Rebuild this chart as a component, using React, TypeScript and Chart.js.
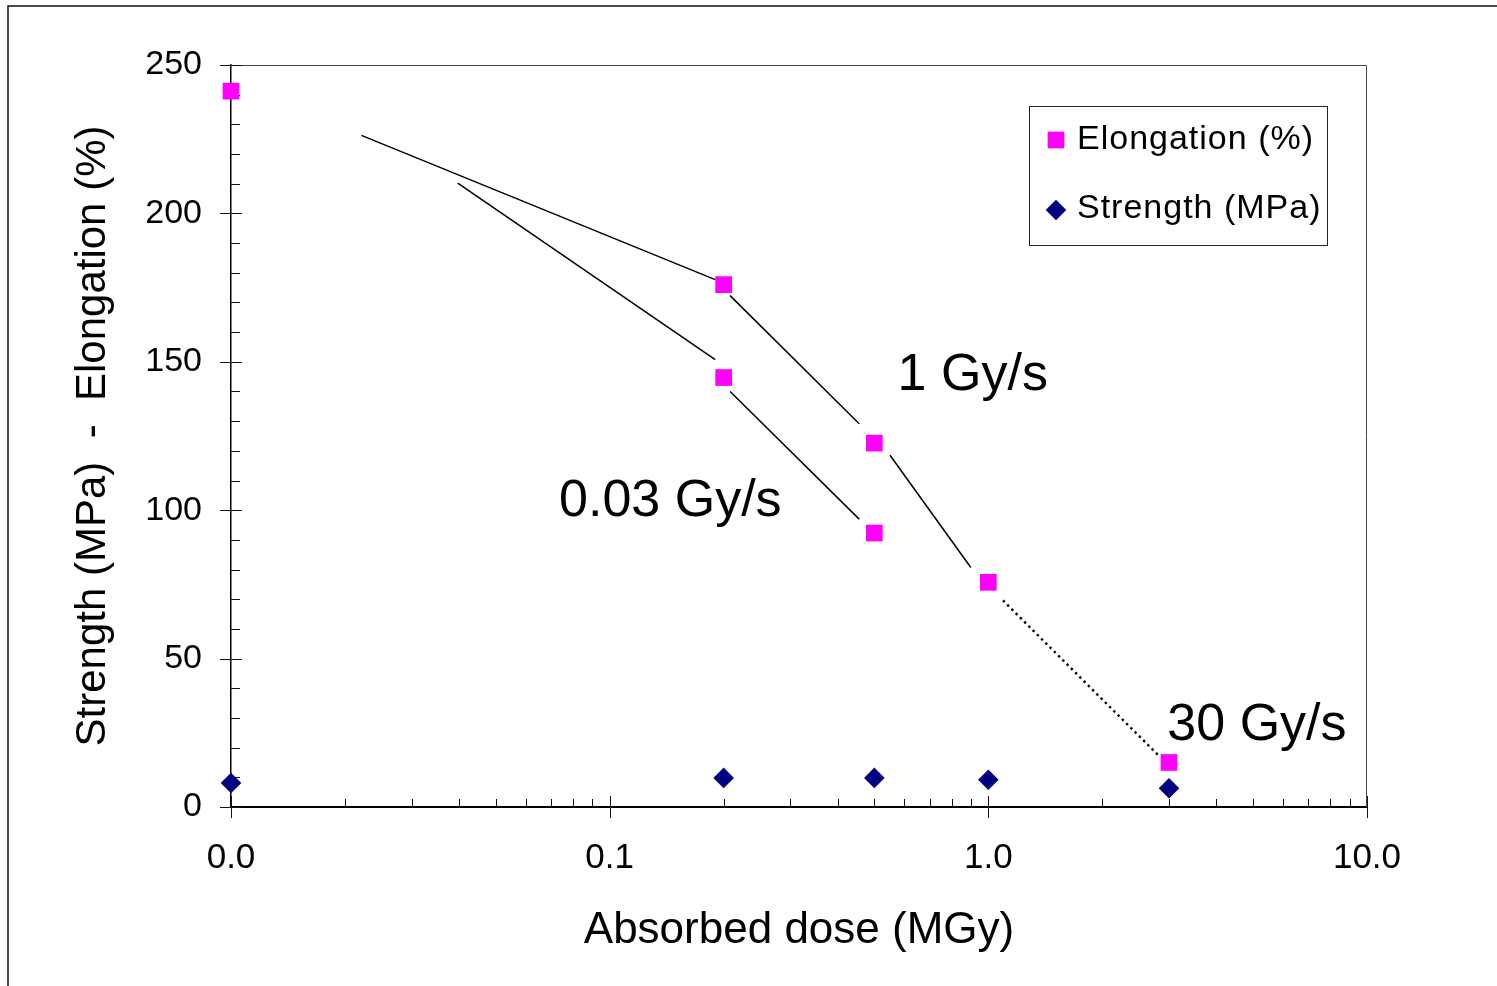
import React, { useEffect, useRef } from "react";
import { Chart, registerables } from "chart.js";

Chart.register(...registerables);

const FONT = "'Liberation Sans', Arial, Helvetica, sans-serif";

// ---- axis ticks ----
const X_TICKS = [0.01, 0.1, 1, 10];
const X_TICK_LABELS = ["0.0", "0.1", "1.0", "10.0"];
const Y_TICKS = [0, 50, 100, 150, 200, 250];
const Y_TICK_LABELS = ["0", "50", "100", "150", "200", "250"];

// ---- measured series ----
const ELONG_DOSE = [0.01, 0.2, 0.2, 0.5, 0.5, 1, 3];
const ELONG_VALUE = [241.2, 176.0, 144.7, 122.6, 92.3, 75.7, 15.0];
const STRENGTH_DOSE = [0.01, 0.2, 0.5, 1, 3];
const STRENGTH_VALUE = [8.1, 9.8, 9.8, 9.2, 6.3];

// ---- hand-drawn trend segments (dose, value) ----
const SEG_1GY_A_DOSE = [0.0221, 0.19];
const SEG_1GY_A_VALUE = [226.3, 177.7];
const SEG_1GY_B_DOSE = [0.208, 0.456];
const SEG_1GY_B_VALUE = [172.3, 129.1];
const SEG_1GY_C_DOSE = [0.55, 0.899];
const SEG_1GY_C_VALUE = [118.5, 80.7];
const SEG_30GY_DOSE = [1.093, 2.844];
const SEG_30GY_VALUE = [69.6, 16.8];
const SEG_003_A_DOSE = [0.0397, 0.19];
const SEG_003_A_VALUE = [210.2, 150.7];
const SEG_003_B_DOSE = [0.208, 0.456];
const SEG_003_B_VALUE = [140.0, 97.0];

// ---- dose-rate labels ----
const RATE_LABELS = ["1 Gy/s", "0.03 Gy/s", "30 Gy/s"];
const RATE_LABEL_DOSE = [0.576, 0.0735, 2.97];
const RATE_LABEL_VALUE = [140.6, 97.9, 22.7];

const pts = (xs: number[], ys: number[]) => xs.map((x, i) => ({ x, y: ys[i] }));

const segment = (xs: number[], ys: number[], dashed = false) => ({
  data: pts(xs, ys),
  showLine: true,
  borderColor: "#000",
  backgroundColor: "#000",
  borderWidth: dashed ? 2.4 : 1.5,
  borderDash: dashed ? [2.4, 3.6] : [],
  pointRadius: 0,
  pointHoverRadius: 0,
  clip: false as const,
  order: 5,
});

const extras = {
  id: "extras",
  beforeDraw(chart: any) {
    const { ctx } = chart;
    ctx.save();
    ctx.fillStyle = "#fff";
    ctx.fillRect(0, 0, chart.width, chart.height);
    // outer frame
    ctx.strokeStyle = "#111";
    ctx.lineWidth = 1.5;
    ctx.beginPath();
    ctx.moveTo(8, chart.height + 2);
    ctx.lineTo(8, 6);
    ctx.lineTo(chart.width + 2, 6);
    ctx.stroke();
    ctx.restore();
  },
  beforeDatasetsDraw(chart: any) {
    const { ctx, chartArea: a, scales } = chart;
    const xs = scales.x;
    const ys = scales.y;
    ctx.save();
    // plot frame top / right
    ctx.strokeStyle = "#444";
    ctx.lineWidth = 1;
    ctx.beginPath();
    ctx.moveTo(a.left, Math.round(a.top) + 0.5);
    ctx.lineTo(Math.round(a.right) - 0.5, Math.round(a.top) + 0.5);
    ctx.lineTo(Math.round(a.right) - 0.5, a.bottom);
    ctx.stroke();

    ctx.strokeStyle = "#111";
    ctx.lineWidth = 1;
    ctx.beginPath();
    // y ticks
    for (let v = ys.min; v <= ys.max; v += 10) {
      const py = Math.round(ys.getPixelForValue(v)) + 0.5;
      if (v % 50 === 0) {
        ctx.moveTo(a.left - 11, py);
        ctx.lineTo(a.left + 11, py);
      } else {
        ctx.moveTo(a.left, py);
        ctx.lineTo(a.left + 9, py);
      }
    }
    // x ticks
    for (const dec of X_TICKS) {
      const px = Math.round(xs.getPixelForValue(dec)) + 0.5;
      ctx.moveTo(px, a.bottom - 11);
      ctx.lineTo(px, a.bottom + 11);
      if (dec * 2 <= xs.max) {
        for (let k = 2; k <= 9; k++) {
          const qx = Math.round(xs.getPixelForValue(dec * k)) + 0.5;
          ctx.moveTo(qx, a.bottom - 8);
          ctx.lineTo(qx, a.bottom);
        }
      }
    }
    ctx.stroke();
    ctx.restore();
  },
  afterDraw(chart: any) {
    const { ctx, scales } = chart;
    const xs = scales.x;
    const ys = scales.y;
    ctx.save();
    // dose-rate labels
    ctx.fillStyle = "#000";
    ctx.font = `52px ${FONT}`;
    ctx.textAlign = "left";
    ctx.textBaseline = "alphabetic";
    RATE_LABELS.forEach((t, i) => {
      ctx.fillText(t, xs.getPixelForValue(RATE_LABEL_DOSE[i]), ys.getPixelForValue(RATE_LABEL_VALUE[i]));
    });

    // legend
    const bx = 1029.5, by = 106.5, bw = 298, bh = 139;
    ctx.fillStyle = "#fff";
    ctx.fillRect(bx, by, bw, bh);
    ctx.strokeStyle = "#222";
    ctx.lineWidth = 1;
    ctx.strokeRect(bx, by, bw, bh);
    const rows = [140, 210];
    const baselines = [149, 218];
    [0, 1].forEach((di, r) => {
      const ds = chart.data.datasets[di];
      const cx = 1056, cy = rows[r];
      const rad = ds.pointRadius;
      ctx.fillStyle = ds.backgroundColor;
      ctx.beginPath();
      if (ds.pointStyle === "rect") {
        const s = Math.SQRT1_2 * rad;
        ctx.rect(cx - s, cy - s, 2 * s, 2 * s);
      } else {
        ctx.moveTo(cx - rad, cy);
        ctx.lineTo(cx, cy - rad);
        ctx.lineTo(cx + rad, cy);
        ctx.lineTo(cx, cy + rad);
        ctx.closePath();
      }
      ctx.fill();
      ctx.fillStyle = "#000";
      ctx.font = `34px ${FONT}`;
      (ctx as any).letterSpacing = "1px";
      ctx.fillText(ds.label, 1077, baselines[r]);
      (ctx as any).letterSpacing = "0px";
    });
    ctx.restore();
  },
};

export default function App() {
  const ref = useRef<HTMLCanvasElement>(null);

  useEffect(() => {
    const canvas = ref.current!;
    const chart = new Chart(canvas, {
      type: "scatter",
      data: {
        datasets: [
          {
            label: "Elongation (%)",
            data: pts(ELONG_DOSE, ELONG_VALUE),
            pointStyle: "rect",
            pointRadius: 11.8,
            pointHoverRadius: 11.8,
            backgroundColor: "#FF00FF",
            borderColor: "#FF00FF",
            borderWidth: 0,
            pointBorderWidth: 0,
            clip: false,
            order: 0,
          } as any,
          {
            label: "Strength (MPa)",
            data: pts(STRENGTH_DOSE, STRENGTH_VALUE),
            pointStyle: "rectRot",
            pointRadius: 10.3,
            pointHoverRadius: 10.3,
            backgroundColor: "#000080",
            borderColor: "#000080",
            borderWidth: 0,
            pointBorderWidth: 0,
            clip: false,
            order: 1,
          } as any,
          segment(SEG_1GY_A_DOSE, SEG_1GY_A_VALUE),
          segment(SEG_1GY_B_DOSE, SEG_1GY_B_VALUE),
          segment(SEG_1GY_C_DOSE, SEG_1GY_C_VALUE),
          segment(SEG_30GY_DOSE, SEG_30GY_VALUE, true),
          segment(SEG_003_A_DOSE, SEG_003_A_VALUE),
          segment(SEG_003_B_DOSE, SEG_003_B_VALUE),
        ] as any,
      },
      options: {
        animation: false,
        responsive: false,
        devicePixelRatio: 1,
        events: [],
        layout: { padding: { top: 65, right: 130, left: 0, bottom: 0 } },
        plugins: {
          legend: { display: false },
          tooltip: { enabled: false },
          title: { display: false },
        },
        scales: {
          x: {
            type: "logarithmic",
            min: 0.01,
            max: 10,
            afterBuildTicks: (s: any) => {
              s.ticks = X_TICKS.map((v) => ({ value: v }));
            },
            afterFit: (s: any) => {
              s.height = 179;
            },
            grid: { display: false, drawTicks: false },
            border: { display: true, color: "#000", width: 2 },
            ticks: {
              autoSkip: false,
              maxRotation: 0,
              minRotation: 0,
              padding: 30,
              color: "#000",
              font: { family: FONT, size: 35 },
              callback: (_v: any, i: number) => X_TICK_LABELS[i],
            },
            title: {
              display: true,
              text: "Absorbed dose (MGy)",
              color: "#000",
              font: { family: FONT, size: 44 },
              padding: { top: 0, bottom: 29 },
            },
          },
          y: {
            type: "linear",
            min: 0,
            max: 250,
            afterBuildTicks: (s: any) => {
              s.ticks = Y_TICKS.map((v) => ({ value: v }));
            },
            afterFit: (s: any) => {
              s.width = 231;
            },
            grid: { display: false, drawTicks: false },
            border: { display: true, color: "#000", width: 1.5 },
            ticks: {
              autoSkip: false,
              padding: 29,
              color: "#000",
              font: { family: FONT, size: 34 },
              callback: (_v: any, i: number) => Y_TICK_LABELS[i],
            },
            title: {
              display: true,
              text: "Strength (MPa)  -  Elongation (%)",
              color: "#000",
              font: { family: FONT, size: 42 },
              padding: { top: 68, bottom: 0 },
            },
          },
        },
      } as any,
      plugins: [extras],
    });
    return () => chart.destroy();
  }, []);

  return (
    <canvas
      ref={ref}
      width={1497}
      height={986}
      style={{ position: "fixed", left: 0, top: 0, width: 1497, height: 986, display: "block" }}
    />
  );
}
